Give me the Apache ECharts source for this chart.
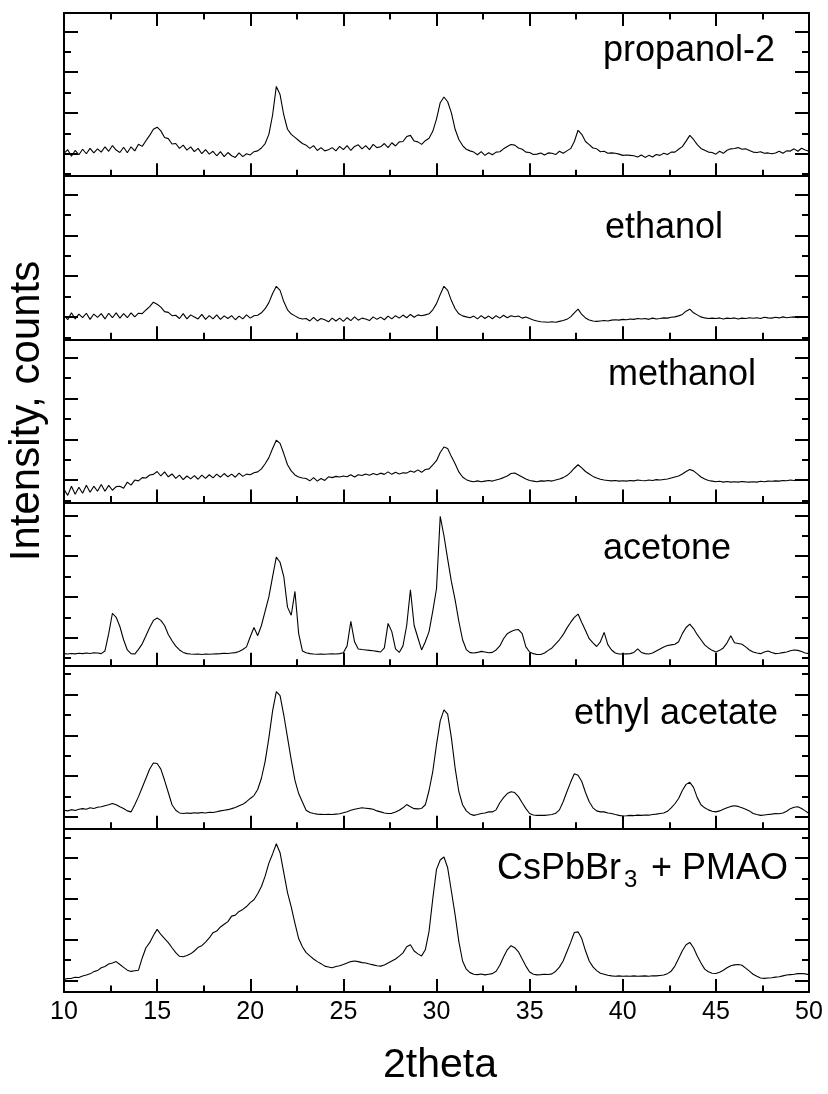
<!DOCTYPE html>
<html>
<head>
<meta charset="utf-8">
<title>XRD patterns</title>
<script src="https://cdn.jsdelivr.net/npm/echarts@6/dist/echarts.min.js"></script>
<style>
  html, body { margin: 0; padding: 0; background: #fff; }
  #chart { width: 828px; height: 1094px; }
</style>
</head>
<body>
<div id="chart"></div>
<script>
// Scan positions, 2theta in degrees (0.2 degree step)
const twoTheta = [
  10, 10.2, 10.4, 10.6, 10.8, 11, 11.2, 11.4, 11.6, 11.8,
  12, 12.2, 12.4, 12.6, 12.8, 13, 13.2, 13.4, 13.6, 13.8,
  14, 14.2, 14.4, 14.6, 14.8, 15, 15.2, 15.4, 15.6, 15.8,
  16, 16.2, 16.4, 16.6, 16.8, 17, 17.2, 17.4, 17.6, 17.8,
  18, 18.2, 18.4, 18.6, 18.8, 19, 19.2, 19.4, 19.6, 19.8,
  20, 20.2, 20.4, 20.6, 20.8, 21, 21.2, 21.4, 21.6, 21.8,
  22, 22.2, 22.4, 22.6, 22.8, 23, 23.2, 23.4, 23.6, 23.8,
  24, 24.2, 24.4, 24.6, 24.8, 25, 25.2, 25.4, 25.6, 25.8,
  26, 26.2, 26.4, 26.6, 26.8, 27, 27.2, 27.4, 27.6, 27.8,
  28, 28.2, 28.4, 28.6, 28.8, 29, 29.2, 29.4, 29.6, 29.8,
  30, 30.2, 30.4, 30.6, 30.8, 31, 31.2, 31.4, 31.6, 31.8,
  32, 32.2, 32.4, 32.6, 32.8, 33, 33.2, 33.4, 33.6, 33.8,
  34, 34.2, 34.4, 34.6, 34.8, 35, 35.2, 35.4, 35.6, 35.8,
  36, 36.2, 36.4, 36.6, 36.8, 37, 37.2, 37.4, 37.6, 37.8,
  38, 38.2, 38.4, 38.6, 38.8, 39, 39.2, 39.4, 39.6, 39.8,
  40, 40.2, 40.4, 40.6, 40.8, 41, 41.2, 41.4, 41.6, 41.8,
  42, 42.2, 42.4, 42.6, 42.8, 43, 43.2, 43.4, 43.6, 43.8,
  44, 44.2, 44.4, 44.6, 44.8, 45, 45.2, 45.4, 45.6, 45.8,
  46, 46.2, 46.4, 46.6, 46.8, 47, 47.2, 47.4, 47.6, 47.8,
  48, 48.2, 48.4, 48.6, 48.8, 49, 49.2, 49.4, 49.6, 49.8,
  50
];

// Intensities, one tick spacing = 1 unit
const propanol2 = [
  1.02, 1.2, 0.88, 1.16, 0.95,  1.22, 1.0, 1.26, 1.04, 1.24,
  1.08, 1.34, 1.12, 1.4, 1.18,  1.06, 1.32, 1.05, 1.34, 1.14,
  1.46, 1.36, 1.64, 1.9, 2.2,   2.3, 2.12, 1.8, 1.74, 1.48,
  1.5, 1.26, 1.42, 1.18, 1.34,  1.1, 1.26, 1.0, 1.2, 0.98,
  1.12, 0.9, 1.1, 0.86, 1.06,   0.9, 0.82, 1.04, 0.86, 1.0,
  0.94, 1.1, 1.14, 1.28, 1.5,   1.95, 2.9, 4.3, 3.9, 2.9,
  2.2, 1.95, 1.8, 1.65, 1.5,    1.42, 1.26, 1.4, 1.16, 1.3,
  1.14, 1.2, 1.3, 1.14, 1.36,   1.2, 1.4, 1.16, 1.36, 1.44,
  1.24, 1.4, 1.2, 1.46, 1.3,    1.34, 1.5, 1.3, 1.54, 1.38,
  1.58, 1.6, 1.84, 1.9, 1.62,   1.58, 1.46, 1.64, 1.76, 2.1,
  2.7, 3.5, 3.78, 3.55, 3.0,    2.2, 1.7, 1.4, 1.22, 1.14,
  1.08, 0.95, 1.1, 0.92, 1.05,  0.95, 1.08, 1.1, 1.24, 1.35,
  1.45, 1.42, 1.28, 1.22, 1.08, 1.06, 0.96, 0.98, 1.04, 0.94,
  1.04, 1.02, 0.96, 1.12, 1.02, 1.14, 1.25, 1.6, 2.15, 1.95,
  1.6, 1.45, 1.28, 1.24, 1.1,   1.12, 1.02, 1.04, 1.02, 0.98,
  0.92, 0.94, 0.92, 0.9, 0.84,  0.94, 0.82, 0.92, 0.84, 0.96,
  0.92, 1.02, 0.96, 1.08, 1.08, 1.22, 1.35, 1.62, 1.9, 1.7,
  1.45, 1.26, 1.17, 1.08, 1.06, 0.98, 1.12, 1.02, 1.17, 1.24,
  1.26, 1.3, 1.22, 1.24, 1.16,  1.08, 1.06, 1.1, 1.02, 1.04,
  1.0, 1.04, 1.12, 1.02, 1.14,  1.13, 1.24, 1.12, 1.27, 1.18,
  1.12
];

const ethanol = [
  1.08, 0.86, 1.2, 0.9, 1.14,   0.96, 1.18, 0.88, 1.14, 0.98,
  1.16, 0.9, 1.18, 0.96, 1.2,   0.94, 1.16, 0.96, 1.2, 1.0,
  1.18, 1.16, 1.34, 1.5, 1.72,  1.62, 1.48, 1.26, 1.22, 1.06,
  1.08, 0.92, 1.16, 0.9, 1.1,   1.0, 0.9, 1.12, 0.88, 1.06,
  0.9, 1.1, 0.88, 1.05, 0.92,   1.06, 0.86, 1.04, 0.9, 1.1,
  0.94, 1.06, 1.08, 1.2, 1.4,   1.7, 2.15, 2.5, 2.3, 1.75,
  1.35, 1.15, 1.05, 0.95, 0.9,  0.92, 0.8, 0.98, 0.8, 0.92,
  0.86, 0.76, 0.94, 0.8, 0.94,  0.78, 0.96, 0.82, 1.0, 0.84,
  0.94, 0.9, 0.82, 1.0, 0.88,   0.99, 0.86, 1.04, 0.9, 1.06,
  0.94, 1.09, 0.96, 1.12, 0.98, 1.1, 1.06, 1.1, 1.15, 1.35,
  1.65, 2.1, 2.5, 2.3, 1.8,     1.4, 1.15, 1.05, 1.0, 0.96,
  1.04, 0.9, 1.06, 0.92, 1.04,  0.91, 1.06, 0.94, 1.08, 0.96,
  1.06, 1.01, 1.04, 0.94, 1.0,  0.92, 0.85, 0.8, 0.76, 0.75,
  0.74, 0.76, 0.74, 0.78, 0.82, 0.88, 1.0, 1.2, 1.38, 1.12,
  0.95, 0.85, 0.8, 0.78, 0.8,   0.82, 0.8, 0.84, 0.86, 0.84,
  0.88, 0.86, 0.9, 0.88, 0.92,  0.9, 0.92, 0.88, 0.94, 0.9,
  0.92, 0.95, 0.94, 0.98, 1.0,  1.05, 1.12, 1.28, 1.38, 1.2,
  1.1, 1.0, 0.95, 0.92, 0.94,   0.92, 0.95, 0.9, 0.94, 0.92,
  0.95, 0.9, 0.94, 0.92, 0.96,  0.93, 0.96, 0.92, 0.98, 0.95,
  0.94, 0.98, 0.95, 1.0, 0.96,  0.98, 1.0, 0.96, 1.02, 1.0,
  0.98
];

const methanol = [
  0.55, 0.25, 0.7, 0.3, 0.65,   0.35, 0.75, 0.4, 0.7, 0.45,
  0.78, 0.45, 0.74, 0.5, 0.68,  0.7, 0.6, 0.9, 0.75, 1.0,
  0.96, 1.12, 1.1, 1.25, 1.28,  1.42, 1.2, 1.4, 1.16, 1.3,
  1.08, 1.24, 1.02, 1.2, 1.06,  1.22, 1.04, 1.24, 1.08, 1.26,
  1.11, 1.29, 1.14, 1.32, 1.16, 1.29, 1.14, 1.34, 1.18, 1.29,
  1.26, 1.36, 1.4, 1.55, 1.8,   2.1, 2.55, 2.95, 2.8, 2.3,
  1.75, 1.45, 1.25, 1.15, 1.1,  1.08, 0.96, 1.12, 0.95, 1.08,
  0.98, 1.16, 1.12, 1.18, 1.15, 1.2, 1.16, 1.26, 1.15, 1.26,
  1.22, 1.3, 1.24, 1.32, 1.26,  1.34, 1.28, 1.4, 1.28, 1.38,
  1.3, 1.36, 1.34, 1.44, 1.38,  1.5, 1.38, 1.52, 1.55, 1.75,
  1.95, 2.35, 2.62, 2.55, 2.15, 1.8, 1.4, 1.15, 1.02, 0.95,
  0.92, 0.96, 0.92, 0.95, 0.98, 0.95, 1.0, 1.05, 1.12, 1.2,
  1.32, 1.35, 1.25, 1.15, 1.05, 0.98, 0.95, 0.92, 0.96, 0.95,
  0.98, 0.95, 1.0, 1.05, 1.12,  1.22, 1.38, 1.58, 1.75, 1.6,
  1.42, 1.3, 1.18, 1.1, 1.04,   1.0, 0.98, 0.96, 0.98, 0.95,
  0.97, 0.95, 0.98, 0.96, 1.0,  0.98, 0.97, 1.0, 0.98, 1.02,
  1.0, 1.03, 1.05, 1.1, 1.15,   1.2, 1.3, 1.42, 1.52, 1.45,
  1.3, 1.15, 1.05, 0.98, 0.95,  0.92, 0.94, 0.9, 0.93, 0.9,
  0.92, 0.9, 0.93, 0.91, 0.9,   0.92, 0.9, 0.94, 0.92, 0.95,
  0.94, 0.96, 0.95, 0.98, 0.97, 1.0, 0.98, 1.02, 1.0, 1.03,
  1.02
];

const acetone = [
  0.22, 0.2, 0.23, 0.21, 0.24,  0.22, 0.25, 0.23, 0.26, 0.25,
  0.22, 0.35, 1.2, 2.2, 2.0,    1.55, 0.9, 0.4, 0.22, 0.2,
  0.43, 0.7, 1.1, 1.5, 1.85,    1.97, 1.85, 1.6, 1.16, 0.85,
  0.59, 0.4, 0.28, 0.22, 0.2,   0.19, 0.2, 0.18, 0.2, 0.19,
  0.2, 0.21, 0.22, 0.24, 0.23,  0.25, 0.27, 0.32, 0.42, 0.55,
  1.05, 1.5, 1.1, 1.6, 2.3,     3.0, 4.0, 4.95, 4.7, 4.0,
  2.5, 2.1, 3.27, 1.2, 0.35,    0.26, 0.22, 0.2, 0.19, 0.2,
  0.19, 0.2, 0.21, 0.2, 0.22,   0.26, 0.6, 1.8, 0.8, 0.45,
  0.42, 0.4, 0.38, 0.36, 0.33,  0.3, 0.5, 1.7, 1.3, 0.45,
  0.28, 0.6, 1.6, 3.35, 1.6,    1.0, 0.4, 0.8, 1.3, 2.3,
  3.4, 6.95, 6.0, 4.85, 3.75,   2.86, 1.8, 0.9, 0.42, 0.27,
  0.25, 0.28, 0.33, 0.3, 0.26,  0.28, 0.4, 0.6, 0.95, 1.2,
  1.3, 1.38, 1.4, 1.2, 0.55,    0.3, 0.22, 0.18, 0.18, 0.25,
  0.38, 0.5, 0.7, 0.9, 1.15,    1.47, 1.75, 2.0, 2.16, 1.75,
  1.35, 0.95, 0.75, 0.57, 0.8,  1.26, 0.66, 0.4, 0.25, 0.2,
  0.2, 0.21, 0.22, 0.28, 0.45,  0.28, 0.22, 0.2, 0.25, 0.35,
  0.45, 0.55, 0.62, 0.65, 0.68, 0.8, 1.2, 1.5, 1.67, 1.45,
  1.15, 0.9, 0.65, 0.5, 0.38,   0.3, 0.38, 0.5, 0.75, 1.1,
  0.75, 0.72, 0.68, 0.55, 0.4,  0.3, 0.25, 0.22, 0.3, 0.35,
  0.28, 0.22, 0.24, 0.27, 0.3,  0.36, 0.4, 0.38, 0.32, 0.25,
  0.22
];

const ethylAcetate = [
  0.33, 0.3, 0.36, 0.32, 0.38,  0.41, 0.38, 0.45, 0.42, 0.48,
  0.5, 0.55, 0.6, 0.66, 0.6,    0.5, 0.42, 0.3, 0.25, 0.6,
  1.0, 1.45, 1.9, 2.35, 2.65,   2.62, 2.35, 1.8, 1.2, 0.6,
  0.33, 0.2, 0.17, 0.2, 0.18,   0.21, 0.19, 0.22, 0.2, 0.23,
  0.22, 0.26, 0.3, 0.33, 0.36,  0.41, 0.47, 0.55, 0.62, 0.75,
  0.91, 1.05, 1.35, 1.9, 2.73,  3.88, 5.2, 6.15, 5.95, 5.0,
  3.9, 2.8, 1.8, 1.15, 0.74,    0.33, 0.22, 0.17, 0.14, 0.13,
  0.12, 0.13, 0.12, 0.14, 0.16, 0.21, 0.26, 0.33, 0.38, 0.42,
  0.45, 0.43, 0.41, 0.38, 0.3,  0.25, 0.2, 0.17, 0.18, 0.25,
  0.33, 0.45, 0.61, 0.5, 0.41,  0.4, 0.42, 0.6, 1.3, 2.23,
  3.55, 4.71, 5.25, 5.04, 3.88, 2.4, 1.24, 0.6, 0.3, 0.15,
  0.08, 0.12, 0.17, 0.2, 0.25,  0.25, 0.35, 0.7, 0.95, 1.15,
  1.24, 1.2, 1.0, 0.7, 0.41,    0.17, 0.1, 0.08, 0.08, 0.08,
  0.1, 0.12, 0.18, 0.35, 0.75,  1.24, 1.7, 2.12, 2.05, 1.74,
  1.2, 0.75, 0.45, 0.3, 0.25,   0.25, 0.2, 0.17, 0.12, 0.08,
  0.05, 0.06, 0.08, 0.07, 0.09, 0.08, 0.1, 0.09, 0.12, 0.14,
  0.17, 0.2, 0.28, 0.45, 0.65,  0.91, 1.3, 1.6, 1.7, 1.45,
  0.95, 0.6, 0.45, 0.35, 0.28,  0.25, 0.3, 0.38, 0.45, 0.52,
  0.55, 0.52, 0.45, 0.38, 0.3,  0.17, 0.12, 0.08, 0.1, 0.12,
  0.14, 0.17, 0.16, 0.2, 0.28,  0.41, 0.48, 0.5, 0.42, 0.3,
  0.17
];

const csPbBr3Pmao = [
  0.05, 0.09, 0.1, 0.15, 0.14,  0.21, 0.26, 0.32, 0.43, 0.48,
  0.62, 0.68, 0.8, 0.85, 0.92,  0.78, 0.64, 0.5, 0.44, 0.47,
  0.5, 1.1, 1.6, 1.85, 2.2,     2.5, 2.25, 2.05, 1.85, 1.6,
  1.36, 1.18, 1.16, 1.22, 1.3,  1.44, 1.62, 1.7, 1.88, 2.08,
  2.34, 2.42, 2.62, 2.75, 2.88, 3.15, 3.2, 3.38, 3.48, 3.62,
  3.81, 3.95, 4.25, 4.6, 5.11,  5.75, 6.2, 6.7, 6.26, 5.28,
  4.3, 3.6, 2.8, 2.05, 1.65,    1.36, 1.2, 1.05, 0.92, 0.82,
  0.7, 0.66, 0.62, 0.68, 0.72,  0.78, 0.85, 0.92, 0.95, 0.92,
  0.87, 0.85, 0.8, 0.76, 0.72,  0.7, 0.75, 0.85, 0.95, 1.05,
  1.19, 1.35, 1.65, 1.75, 1.44, 1.3, 1.2, 1.5, 2.4, 4.0,
  5.44, 5.9, 6.05, 5.52, 4.37,  3.21, 1.9, 0.95, 0.55, 0.38,
  0.3, 0.28, 0.31, 0.27, 0.3,   0.33, 0.45, 0.74, 1.15, 1.5,
  1.7, 1.6, 1.4, 1.05, 0.7,     0.41, 0.3, 0.27, 0.28, 0.3,
  0.29, 0.32, 0.45, 0.65, 0.95, 1.4, 1.85, 2.35, 2.38, 2.05,
  1.45, 0.95, 0.66, 0.48, 0.35, 0.3, 0.25, 0.22, 0.2, 0.22,
  0.2, 0.21, 0.2, 0.22, 0.2,    0.21, 0.22, 0.2, 0.23, 0.22,
  0.24, 0.26, 0.33, 0.45, 0.7,  1.07, 1.45, 1.75, 1.86, 1.6,
  1.2, 0.85, 0.55, 0.42, 0.35,  0.34, 0.4, 0.5, 0.62, 0.72,
  0.76, 0.78, 0.74, 0.6, 0.45,  0.3, 0.2, 0.12, 0.1, 0.12,
  0.13, 0.16, 0.18, 0.22, 0.26, 0.28, 0.3, 0.33, 0.34, 0.32,
  0.28
];

const panelNames = ['propanol-2', 'ethanol', 'methanol', 'acetone', 'ethyl acetate'];
const xAxisTitle = '2theta';
const yAxisTitle = 'Intensity, counts';

// ---- layout ----
const FONT = '"Liberation Sans", Arial, Helvetica, sans-serif';
const plot = { left: 64, right: 809, top: 13, bottom: 992 };
const panelCount = 6;
const panelHeight = (plot.bottom - plot.top) / panelCount;
const panelSpan = 8; // tick units shown in one panel

// per-panel vertical axis window and tick placement
const panels = [
  { values: propanol2,    yMin: -0.1,  major: [1, 3, 5, 7], minor: [0, 2, 4, 6] },
  { values: ethanol,      yMin: -0.1,  major: [1, 3, 5, 7], minor: [0, 2, 4, 6] },
  { values: methanol,     yMin: -0.1,  major: [1, 3, 5, 7], minor: [0, 2, 4, 6] },
  { values: acetone,      yMin: -0.37, major: [1, 3, 5, 7], minor: [0, 2, 4, 6] },
  { values: ethylAcetate, yMin: -0.58, major: [0, 2, 4, 6], minor: [1, 3, 5, 7] },
  { values: csPbBr3Pmao,  yMin: -0.57, major: [0, 2, 4, 6], minor: [1, 3, 5, 7] }
];

// panel caption anchors (left edge, vertical middle)
const captionPos = [
  { x: 603, y: 51 },
  { x: 605, y: 228 },
  { x: 608, y: 375 },
  { x: 603, y: 549 },
  { x: 574, y: 714 }
];

const black = '#000';
const frameWidth = 2;

const grids = [];
const xAxes = [];
const yAxes = [];
const series = [];

panels.forEach((p, i) => {
  grids.push({
    left: plot.left,
    width: plot.right - plot.left,
    top: plot.top + i * panelHeight,
    height: panelHeight,
    outerBoundsMode: 'none',
    containLabel: false
  });

  const isLast = i === panelCount - 1;
  xAxes.push({
    gridIndex: i,
    type: 'value',
    position: 'bottom',
    min: 10,
    max: 50,
    interval: 5,
    axisLine: { show: true, onZero: false, lineStyle: { color: black, width: frameWidth } },
    axisTick: { show: true, inside: true, length: 13, lineStyle: { color: black, width: 2 } },
    minorTick: { show: true, splitNumber: 2, length: 6.5, lineStyle: { color: black, width: 2 } },
    splitLine: { show: false },
    minorSplitLine: { show: false },
    axisLabel: isLast
      ? { show: true, color: black, fontSize: 25, fontFamily: FONT, margin: 8 }
      : { show: false }
  });

  const yBase = {
    gridIndex: i,
    type: 'value',
    min: p.yMin,
    max: p.yMin + panelSpan,
    splitLine: { show: false },
    axisLabel: { show: false }
  };
  const tickStyle = { color: black, width: 2 };
  ['left', 'right'].forEach(side => {
    yAxes.push(Object.assign({}, yBase, {
      position: side,
      axisLine: { show: true, onZero: false, lineStyle: { color: black, width: frameWidth } },
      axisTick: { show: true, inside: true, length: 14, customValues: p.major, lineStyle: tickStyle }
    }));
    yAxes.push(Object.assign({}, yBase, {
      position: side,
      axisLine: { show: false, onZero: false },
      axisTick: { show: true, inside: true, length: 7, customValues: p.minor, lineStyle: tickStyle }
    }));
  });

  series.push({
    type: 'line',
    xAxisIndex: i,
    yAxisIndex: i * 4,
    data: twoTheta.map((t, k) => [t, p.values[k]]),
    showSymbol: false,
    symbol: 'none',
    silent: true,
    clip: true,
    lineStyle: { color: black, width: 1.1 }
  });
});

// ticks along the top edge of the first panel
xAxes.push({
  gridIndex: 0,
  type: 'value',
  position: 'top',
  min: 10,
  max: 50,
  interval: 5,
  axisLine: { show: true, onZero: false, lineStyle: { color: black, width: frameWidth } },
  axisTick: { show: true, inside: true, length: 13, lineStyle: { color: black, width: 2 } },
  minorTick: { show: true, splitNumber: 2, length: 6.5, lineStyle: { color: black, width: 2 } },
  splitLine: { show: false },
  axisLabel: { show: false }
});

function textEl(text, x, y, size, align, extra) {
  return Object.assign({
    type: 'text',
    x: x,
    y: y,
    silent: true,
    style: {
      text: text,
      font: size + 'px ' + FONT,
      fill: black,
      align: align,
      textAlign: align,
      verticalAlign: 'middle',
      textVerticalAlign: 'middle'
    }
  }, extra || {});
}

const graphics = panelNames.map((name, i) => textEl(name, captionPos[i].x, captionPos[i].y, 36, 'left'));
// CsPbBr3 + PMAO, with subscript
graphics.push(textEl('CsPbBr', 497, 869, 36, 'left'));
graphics.push(textEl('3', 624, 880, 24, 'left'));
graphics.push(textEl('+ PMAO', 788, 869, 36, 'right'));
// axis titles
graphics.push(textEl(xAxisTitle, 440, 1066, 41, 'center'));
graphics.push(textEl(yAxisTitle, 27, 411, 42, 'center', { rotation: Math.PI / 2 }));

const chart = echarts.init(document.getElementById('chart'), null, { renderer: 'canvas', width: 828, height: 1094 });
chart.setOption({
  animation: false,
  backgroundColor: '#fff',
  grid: grids,
  xAxis: xAxes,
  yAxis: yAxes,
  series: series,
  graphic: { elements: graphics }
});
</script>
</body>
</html>
